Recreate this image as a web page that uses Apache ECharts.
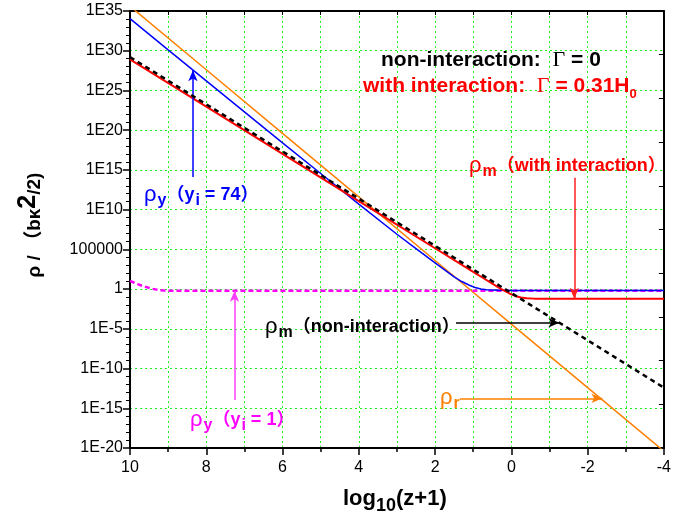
<!DOCTYPE html>
<html>
<head>
<meta charset="utf-8">
<script src="https://cdn.jsdelivr.net/npm/echarts@6/dist/echarts.min.js"></script>
<style>
html, body { margin: 0; padding: 0; background: #fff; }
#main { width: 674px; height: 525px; }
</style>
</head>
<body>
<div id="main"></div>
<script>
// x = log10(z+1), y = log10(rho)
var radX = [10, 8, 6, 4, 2, 0, -2, -4];
var radY = [35.6, 27.6, 19.6, 11.6, 3.6, -4.4, -12.4, -20.4];

var matNoX = [10, 8, 6, 4, 2, 0, -2, -4];
var matNoY = [29.2, 23.26, 17.32, 11.38, 5.44, -0.5, -6.44, -12.4];

var matIntX = [10, 8, 6, 4, 2, 1, 0.75, 0.5, 0.35, 0.25, 0.15, 0.05, -0.05, -0.15, -0.25, -0.4, -0.6, -0.9, -4];
var matIntY = [28.9, 22.96, 17.02, 11.08, 5.14, 2.17, 1.43, 0.69, 0.25, -0.03, -0.3, -0.55, -0.76, -0.93, -1.05, -1.15, -1.2, -1.22, -1.22];

var y74X = [10, 9, 8, 7, 6, 5, 4, 3, 2.5, 2, 1.75, 1.5, 1.3, 1.1, 0.95, 0.8, 0.65, 0.5, 0.3, 0, -4];
var y74Y = [34.05, 30.1, 26.2, 22.3, 18.4, 14.55, 10.7, 6.9, 5.1, 3.3, 2.42, 1.55, 0.95, 0.48, 0.2, 0.02, -0.08, -0.13, -0.16, -0.18, -0.18];

var y1X = [10, 9.9, 9.8, 9.7, 9.6, 9.5, 9.4, 9.3, 9.2, 9.1, 9.0, -4];
var y1Y = [1.04, 0.83, 0.63, 0.45, 0.29, 0.15, 0.03, -0.07, -0.14, -0.19, -0.21, -0.22];

var yTicks = { '0': '1', '5': '100000' };

function pts(xs, ys) {
  return xs.map(function (x, i) { return [x, ys[i]]; });
}

function arrow(x1, y1, x2, y2, color) {
  return {
    silent: true,
    symbol: ['none', 'arrow'],
    symbolSize: [7, 11],
    label: { show: false },
    lineStyle: { color: color, width: 1.5, type: 'solid' },
    animation: false,
    data: [[{ coord: [x1, y1] }, { coord: [x2, y2] }]]
  };
}

var FONT = 'Liberation Sans, Arial, Noto Sans CJK SC, sans-serif';
var green = { color: '#22ee22', type: [2, 3], width: 1 };

function label(x, y, color, text) {
  return {
    type: 'text', x: x, y: y, z: 100,
    style: {
      text: text, fill: color, align: 'left', verticalAlign: 'middle',
      fontFamily: FONT, fontSize: 18, fontWeight: 'bold',
      rich: {
        r: { fontSize: 22, fontWeight: 'normal', fontFamily: FONT, fill: color },
        s: { fontSize: 16, fontWeight: 'bold', fontFamily: FONT, fill: color, padding: [12, 0, 0, 1] },
        b: { fontSize: 18, fontWeight: 'bold', fontFamily: FONT, fill: color }
      }
    }
  };
}

var chart = echarts.init(document.getElementById('main'));
chart.setOption({
  animation: false,
  backgroundColor: '#fff',
  grid: { left: 130, right: 7, top: 11, bottom: 77 },
  xAxis: [{
    type: 'value', min: -4, max: 10, interval: 2, inverse: true,
    axisLine: { onZero: false, lineStyle: { color: '#000', width: 2 } },
    axisTick: { length: 7, lineStyle: { color: '#000', width: 1.5 } },
    minorTick: { show: true, splitNumber: 2, length: 4, lineStyle: { color: '#000', width: 1.5 } },
    splitLine: { show: true, lineStyle: green },
    minorSplitLine: { show: true, lineStyle: green },
    axisLabel: { color: '#000', fontSize: 16, fontFamily: FONT, margin: 12 }
  }, {
    type: 'value', min: -4, max: 10, interval: 1, inverse: true, position: 'top',
    axisLine: { onZero: false, lineStyle: { color: '#000', width: 2 } },
    axisTick: { inside: true, length: 4, lineStyle: { color: '#000', width: 1 } },
    axisLabel: { show: false },
    splitLine: { show: false }
  }],
  yAxis: [{
    type: 'value', min: -20, max: 35, interval: 5,
    axisLine: { show: true, onZero: false, lineStyle: { color: '#000', width: 2 } },
    axisTick: { show: true, length: 7, lineStyle: { color: '#000', width: 1.5 } },
    minorTick: { show: true, splitNumber: 5, length: 4, lineStyle: { color: '#000', width: 1 } },
    splitLine: { show: true, lineStyle: green },
    axisLabel: {
      color: '#000', fontSize: 16, fontFamily: FONT, margin: 7,
      formatter: function (v) { return yTicks[v] || ('1E' + v); }
    }
  }, {
    type: 'value', min: 0, max: 10, interval: 1, position: 'right',
    axisLine: { show: true, onZero: false, lineStyle: { color: '#000', width: 2 } },
    axisTick: { show: true, inside: true, length: 5, lineStyle: { color: '#000', width: 1 } },
    axisLabel: { show: false },
    splitLine: { show: false }
  }],
  series: [{
    name: 'rho_r', type: 'line', data: pts(radX, radY), showSymbol: false,
    lineStyle: { color: '#ff8000', width: 1.5 }, z: 2,
    markLine: arrow(1.35, -13.75, -2.39, -13.75, '#ff8000')
  }, {
    name: 'rho_y74', type: 'line', data: pts(y74X, y74Y), showSymbol: false,
    lineStyle: { color: '#0000ff', width: 1.5 }, z: 3,
    markLine: arrow(8.35, 14.1, 8.35, 27.55, '#0000ff')
  }, {
    name: 'rho_m_int', type: 'line', data: pts(matIntX, matIntY), showSymbol: false,
    lineStyle: { color: '#ff0000', width: 2 }, z: 4,
    markLine: arrow(-1.65, 14.0, -1.65, -1.22, '#ff2020')
  }, {
    name: 'rho_m_non', type: 'line', data: pts(matNoX, matNoY), showSymbol: false,
    lineStyle: { color: '#000', width: 2.5, type: [5, 4] }, z: 5,
    markLine: arrow(1.45, -4.24, -1.26, -4.24, '#000')
  }, {
    name: 'rho_y1', type: 'line', data: pts(y1X, y1Y), showSymbol: false,
    lineStyle: { color: '#ff00ff', width: 2.5, type: [5, 3] }, z: 2,
    markLine: arrow(7.26, -13.96, 7.26, -0.22, '#ff40ff')
  }],
  graphic: [
    {
      type: 'text', x: 381, y: 60, z: 100,
      style: {
        text: 'non-interaction:  {g|Γ} = 0', fill: '#000', verticalAlign: 'middle',
        fontFamily: FONT, fontSize: 21, fontWeight: 'bold',
        rich: { g: { fontFamily: 'Liberation Serif, serif', fontSize: 22, fontWeight: 'normal', fill: '#000' } }
      }
    },
    {
      type: 'text', x: 363, y: 86, z: 100,
      style: {
        text: 'with interaction:  {g|Γ} = 0.31H{s|0}', fill: '#ff0000', verticalAlign: 'middle',
        fontFamily: FONT, fontSize: 21, fontWeight: 'bold',
        rich: {
          g: { fontFamily: 'Liberation Serif, serif', fontSize: 22, fontWeight: 'normal', fill: '#ff0000' },
          s: { fontFamily: FONT, fontSize: 13, fontWeight: 'bold', fill: '#ff0000', padding: [16, 0, 0, 0] }
        }
      }
    },
    label(469, 166, '#ff0000', '{r|ρ}{s|m}{b|（with interaction）}'),
    label(144, 195, '#0000ff', '{r|ρ}{s|y}{b|（y}{s|i}{b| = 74）}'),
    label(190, 420, '#ff00ff', '{r|ρ}{s|y}{b|（y}{s|i}{b| = 1）}'),
    label(265, 327, '#000', '{r|ρ}{s|m}{b|（non-interaction）}'),
    label(440, 398, '#ff8000', '{r|ρ}{s|r}'),
    {
      type: 'text', x: 343, y: 499, z: 100,
      style: {
        text: 'log{s|10}(z+1)', fill: '#000', verticalAlign: 'middle',
        fontFamily: FONT, fontSize: 22, fontWeight: 'bold',
        rich: { s: { fontFamily: FONT, fontSize: 18, fontWeight: 'bold', fill: '#000', padding: [14, 0, 0, 0] } }
      }
    },
    {
      type: 'text', x: 35, y: 225, z: 100, rotation: Math.PI / 2,
      style: {
        text: 'ρ / （bκ{p|2}/2)', fill: '#000', align: 'center', verticalAlign: 'middle',
        fontFamily: FONT, fontSize: 19, fontWeight: 'bold',
        rich: { p: { fontFamily: FONT, fontSize: 25, fontWeight: 'bold', fill: '#000', padding: [0, 0, 14, 0] } }
      }
    }
  ]
});
</script>
</body>
</html>
